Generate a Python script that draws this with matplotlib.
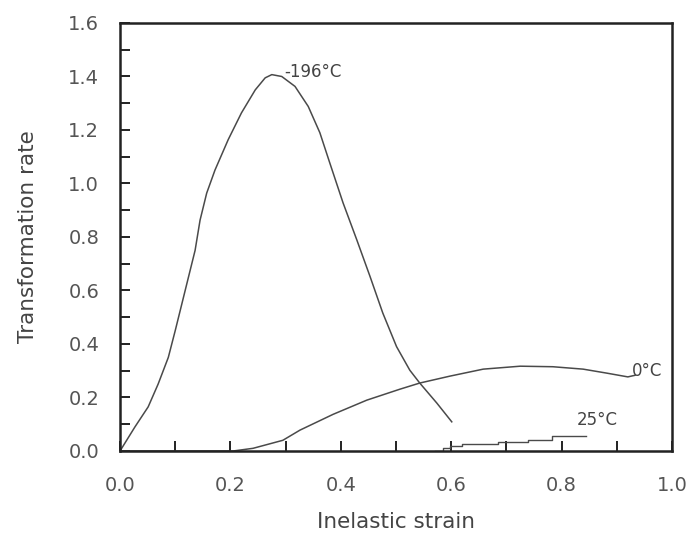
import matplotlib
matplotlib.use("Agg")
import matplotlib.pyplot as plt
from matplotlib.ticker import MultipleLocator, FormatStrFormatter

plt.rcParams['font.family'] = ['DejaVu Sans']

# -196 C curve
x_m196 = [0.0, 0.027, 0.051, 0.069, 0.0875, 0.10, 0.112, 0.124, 0.136, 0.145, 0.157,
          0.172, 0.196, 0.22, 0.245, 0.263, 0.275, 0.293, 0.317, 0.341, 0.362, 0.380,
          0.404, 0.429, 0.453, 0.476, 0.501, 0.525, 0.543, 0.574, 0.601]
y_m196 = [0.0, 0.09, 0.165, 0.25, 0.35, 0.45, 0.55, 0.65, 0.75, 0.863, 0.964,
          1.05, 1.164, 1.264, 1.35, 1.395, 1.407, 1.40, 1.363, 1.288, 1.19, 1.077,
          0.928, 0.789, 0.652, 0.516, 0.39, 0.302, 0.254, 0.179, 0.109]

# 0 C curve
x_0 = [0.0, 0.1, 0.205, 0.241, 0.295, 0.326, 0.386, 0.447, 0.507, 0.543, 0.598,
       0.658, 0.725, 0.784, 0.839, 0.882, 0.920, 0.933]
y_0 = [0.0, 0.0, 0.0, 0.01, 0.04, 0.078, 0.137, 0.19, 0.231, 0.254, 0.28,
       0.306, 0.317, 0.315, 0.306, 0.291, 0.277, 0.283]

# 25 C stepped curve
x_25 = [0.57, 0.585, 0.597, 0.62, 0.685, 0.74, 0.783, 0.845]
y_25 = [0.0, 0.01, 0.02, 0.028, 0.034, 0.04, 0.055, 0.055]

labels = ['-196°C', '0°C', '25°C']
label_x = [0.297, 0.928, 0.828]
label_y = [1.417, 0.30, 0.115]

fig = plt.figure(figsize=(6.91, 5.36), dpi=100)
ax = fig.add_axes([0.1737, 0.1586, 0.7988, 0.7985])

curve_color = '#4a4a4a'
ax.plot(x_m196, y_m196, color=curve_color, lw=1.1)
ax.plot(x_0, y_0, color=curve_color, lw=1.1)
ax.plot(x_25, y_25, color=curve_color, lw=1.0, drawstyle='steps-post')

for t, lx, ly in zip(labels, label_x, label_y):
    ax.text(lx, ly, t, fontsize=12, color='#444444', ha='left', va='center')

ax.set_xlim(0.0, 1.0)
ax.set_ylim(0.0, 1.6)
ax.xaxis.set_major_locator(MultipleLocator(0.2))
ax.xaxis.set_minor_locator(MultipleLocator(0.1))
ax.yaxis.set_major_locator(MultipleLocator(0.2))
ax.yaxis.set_minor_locator(MultipleLocator(0.1))
ax.xaxis.set_major_formatter(FormatStrFormatter('%.1f'))
ax.yaxis.set_major_formatter(FormatStrFormatter('%.1f'))

ax.tick_params(which='both', direction='in', length=7, width=1.4, color='#222222',
               top=False, right=False)
ax.tick_params(axis='x', which='major', pad=18, labelsize=14, labelcolor='#555555')
ax.tick_params(axis='y', which='major', pad=15, labelsize=14, labelcolor='#555555')

for s in ax.spines.values():
    s.set_linewidth(1.8)
    s.set_color('#222222')

ax.set_xlabel('Inelastic strain', fontsize=15.5, color='#444444', labelpad=12)
ax.set_ylabel('Transformation rate', fontsize=15.5, color='#444444', labelpad=22)

fig.savefig('out.png', dpi=100)
